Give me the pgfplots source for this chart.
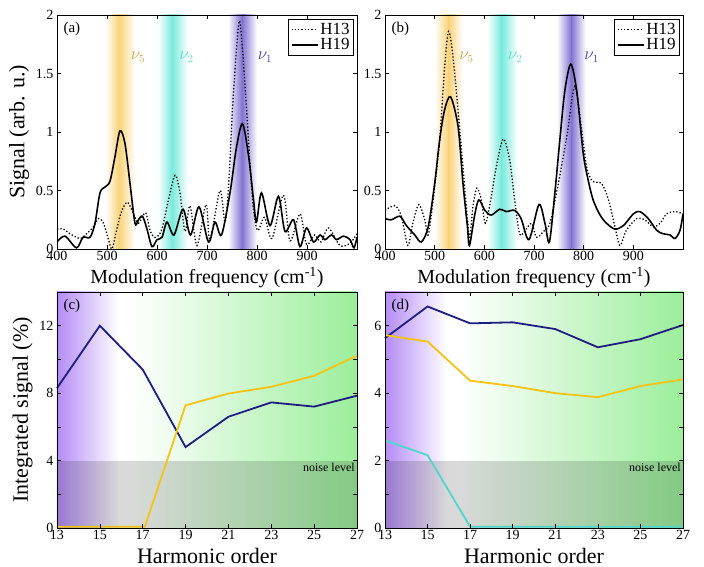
\documentclass[border=0pt]{standalone}
\usepackage{pgfplots}
\pgfplotsset{compat=1.18}
\usepackage{fontspec}
\setmainfont{Liberation Serif}
\definecolor{navy}{RGB}{30,30,130}
\definecolor{goldl}{RGB}{245,195,20}
\definecolor{cyanl}{RGB}{80,215,205}
\definecolor{purbg}{RGB}{180,140,245}
\definecolor{grnbg}{RGB}{155,238,155}
\definecolor{bandY}{RGB}{250,210,120}
\definecolor{bandC}{RGB}{120,235,220}
\definecolor{bandP}{RGB}{130,115,210}
\definecolor{nuY}{RGB}{215,165,70}
\definecolor{nuC}{RGB}{100,220,210}
\definecolor{nuP}{RGB}{70,60,170}
\begin{document}
\begin{tikzpicture}
\path (0pt,0pt) rectangle (704pt,565pt);
\pgfplotsset{
  every axis/.append style={
    scale only axis, anchor=south west, axis on top,
    tick align=inside,
    major tick length=4pt,
    tick style={black, line width=0.5pt},
    axis line style={black, line width=0.6pt},
    ticklabel style={font=\fontsize{14}{14}\selectfont},
    xlabel style={font=\fontsize{20}{20}\selectfont, yshift=1pt},
    ylabel style={font=\fontsize{22}{22}\selectfont},
    xticklabel style={yshift=1pt},
    /pgf/number format/assume math mode=true,
    legend style={font=\fontsize{17}{17}\selectfont, draw=black, line width=0.8pt, inner sep=2pt, row sep=-1pt, cells={anchor=west}},
    legend image code/.code={\draw[#1] (0pt,0pt) -- (26pt,0pt);},
  },
  topax/.style={width=300pt, height=234pt, xmin=400, xmax=1000, ymin=0, ymax=2,
    xtick={400,500,...,900}, extra x ticks={1000}, extra x tick labels={},
    ytick={0,0.5,1,1.5,2},
    xlabel={Modulation frequency (cm\textsuperscript{-1})},
    legend style={at={(0.99,0.985)}, anchor=north east}},
  botax/.style={width=300pt, height=236pt, xmin=13, xmax=27, ymin=0, clip=false,
    xtick={13,15,...,27}, xlabel={Harmonic order},
    xlabel style={font=\fontsize{22}{22}\selectfont, yshift=-2pt}},
}
% ---------------- panel (a)
\begin{axis}[at={(57pt,316pt)}, topax, ylabel={Signal (arb. u.)}]
\shade[left color=white, right color=bandY] (axis cs:497,0) rectangle (axis cs:524,2);
\shade[left color=bandY, right color=white] (axis cs:524,0) rectangle (axis cs:556,2);
\shade[left color=white, right color=bandC] (axis cs:602,0) rectangle (axis cs:630,2);
\shade[left color=bandC, right color=white] (axis cs:630,0) rectangle (axis cs:662,2);
\shade[left color=white, right color=bandP] (axis cs:742,0) rectangle (axis cs:770,2);
\shade[left color=bandP, right color=white] (axis cs:770,0) rectangle (axis cs:800,2);
\addplot[black, dotted, line width=1.3pt, smooth, tension=0.5] coordinates {
(400,0.17) (413,0.17) (426,0.13) (446,0.09) (459,0.13) (473,0.19) (483,0.26) (493,0.22) (503,0.08) (510,0.0) (519,0.16) (529,0.32) (541,0.40) (553,0.30) (563,0.22) (577,0.31) (586,0.16) (596,0.10) (609,0.16) (623,0.42) (636,0.63) (646,0.48) (656,0.15) (666,0.37) (680,0.03) (698,0.38) (706,0.08) (726,0.50) (736,0.23) (744,0.60) (752,1.27) (764,1.94) (771,1.70) (778,1.27) (791,0.42) (801,0.16) (815,0.27) (830,0.09) (853,0.46) (866,0.07) (886,0.30) (899,0.04) (915,0.12) (928,0.06) (943,0.18) (966,0.03) (986,0.05) (1000,0.13)};
\addlegendentry{H13}
\addplot[black, line width=1.6pt, smooth, tension=0.5] coordinates {
(400,0.06) (416,0.11) (439,0.01) (452,0.10) (466,0.10) (476,0.22) (486,0.48) (496,0.53) (506,0.58) (516,0.79) (526,1.01) (536,0.90) (546,0.56) (556,0.22) (563,0.25) (571,0.28) (580,0.17) (590,0.02) (600,0.08) (610,0.10) (620,0.23) (634,0.12) (652,0.34) (667,0.12) (684,0.36) (703,0.06) (716,0.23) (729,0.12) (746,0.48) (759,0.87) (771,1.07) (783,0.80) (793,0.42) (799,0.23) (809,0.48) (826,0.20) (843,0.45) (856,0.15) (873,0.25) (886,0.02) (899,0.18) (913,0.06) (926,0.12) (936,0.08) (949,0.12) (959,0.08) (973,0.11) (986,0.08) (994,0.01) (1000,0.10)};
\addlegendentry{H19}
\node[anchor=north west, font=\fontsize{15}{15}\selectfont] at (rel axis cs:0.01,0.985) {(a)};
\node[text=nuY, font=\fontsize{16}{16}\selectfont] at (axis cs:562,1.64) {$\nu_5$};
\node[text=nuC, font=\fontsize{16}{16}\selectfont] at (axis cs:659,1.64) {$\nu_2$};
\node[text=nuP, font=\fontsize{16}{16}\selectfont] at (axis cs:816,1.64) {$\nu_1$};
\end{axis}
% ---------------- panel (b)
\begin{axis}[at={(385pt,316pt)}, topax, width=298pt]
\shade[left color=white, right color=bandY] (axis cs:500,0) rectangle (axis cs:528,2);
\shade[left color=bandY, right color=white] (axis cs:528,0) rectangle (axis cs:556,2);
\shade[left color=white, right color=bandC] (axis cs:606,0) rectangle (axis cs:635,2);
\shade[left color=bandC, right color=white] (axis cs:635,0) rectangle (axis cs:667,2);
\shade[left color=white, right color=bandP] (axis cs:746,0) rectangle (axis cs:775,2);
\shade[left color=bandP, right color=white] (axis cs:775,0) rectangle (axis cs:804,2);
\addplot[black, dotted, line width=1.3pt, smooth, tension=0.5] coordinates {
(400,0.33) (420,0.37) (433,0.28) (446,0.03) (456,0.22) (468,0.38) (480,0.25) (487,0.12) (497,0.42) (510,0.93) (520,1.55) (528,1.86) (538,1.60) (554,0.85) (566,0.25) (571,0.10) (577,0.36) (585,0.52) (594,0.42) (602,0.22) (612,0.40) (624,0.70) (638,0.94) (651,0.76) (661,0.42) (671,0.13) (681,0.15) (695,0.22) (705,0.10) (719,0.15) (732,0.22) (749,0.56) (766,0.96) (782,1.39) (795,1.05) (806,0.70) (818,0.58) (836,0.56) (850,0.42) (863,0.19) (873,0.03) (886,0.16) (907,0.26) (923,0.25) (940,0.19) (954,0.22) (967,0.30) (984,0.32) (1000,0.30)};
\addlegendentry{H13}
\addplot[black, line width=1.6pt, smooth, tension=0.5] coordinates {
(400,0.26) (413,0.25) (430,0.28) (443,0.20) (460,0.12) (473,0.06) (487,0.19) (500,0.56) (510,0.93) (520,1.19) (532,1.30) (547,1.05) (557,0.56) (566,0.19) (570,0.03) (581,0.30) (589,0.42) (601,0.33) (614,0.29) (631,0.34) (644,0.32) (661,0.33) (674,0.26) (690,0.08) (710,0.38) (722,0.22) (731,0.06) (742,0.48) (752,0.93) (762,1.35) (774,1.58) (786,1.35) (799,0.82) (809,0.59) (819,0.42) (833,0.29) (846,0.22) (863,0.17) (880,0.20) (900,0.30) (913,0.32) (930,0.26) (947,0.16) (960,0.13) (974,0.12) (984,0.09) (994,0.16) (1000,0.30)};
\addlegendentry{H19}
\node[anchor=north west, font=\fontsize{15}{15}\selectfont] at (rel axis cs:0.01,0.985) {(b)};
\node[text=nuY, font=\fontsize{16}{16}\selectfont] at (axis cs:564,1.64) {$\nu_5$};
\node[text=nuC, font=\fontsize{16}{16}\selectfont] at (axis cs:662,1.64) {$\nu_2$};
\node[text=nuP, font=\fontsize{16}{16}\selectfont] at (axis cs:816,1.64) {$\nu_1$};
\end{axis}
% ---------------- panel (c)
\begin{axis}[at={(57pt,37pt)}, botax, ymax=14, ytick={0,2,...,14}, yticklabels={0,,4,,8,,12,},
  ylabel={Integrated signal (\%)}]
\shade[left color=purbg, right color=white] (axis cs:13,0) rectangle (axis cs:15.9,14);
\shade[left color=white, right color=grnbg] (axis cs:16.5,0) rectangle (axis cs:27,14);
\fill[black, opacity=0.15] (axis cs:13,0) rectangle (axis cs:27,4);
\node[anchor=north east, font=\fontsize{12}{12}\selectfont, inner sep=2pt] at (axis cs:27,4) {noise level};
\addplot[navy, line width=1.8pt] coordinates {(13,8.3) (15,12.0) (17,9.4) (19,4.8) (21,6.6) (23,7.45) (25,7.2) (27,7.85)};
\addplot[goldl, line width=1.8pt, yshift=1.3pt] coordinates {(13,0) (15,0) (17.1,0) (19,7.2) (21,7.9) (23,8.3) (25,8.95) (27,10.15)};
\node[anchor=north west, font=\fontsize{15}{15}\selectfont] at (rel axis cs:0.01,0.985) {(c)};
\end{axis}
% ---------------- panel (d)
\begin{axis}[at={(385pt,37pt)}, botax, width=298pt, ymax=7, ytick={0,1,...,7}, yticklabels={0,,2,,4,,6,}]
\shade[left color=purbg, right color=white] (axis cs:13,0) rectangle (axis cs:15.9,7);
\shade[left color=white, right color=grnbg] (axis cs:16.5,0) rectangle (axis cs:27,7);
\fill[black, opacity=0.15] (axis cs:13,0) rectangle (axis cs:27,2);
\node[anchor=north east, font=\fontsize{12}{12}\selectfont, inner sep=2pt] at (axis cs:27,2) {noise level};
\addplot[navy, line width=1.8pt] coordinates {(13,5.63) (15,6.57) (17,6.07) (19,6.1) (21,5.9) (23,5.36) (25,5.6) (27,6.02)};
\addplot[goldl, line width=1.8pt] coordinates {(13,5.72) (15,5.53) (17,4.37) (19,4.21) (21,4.0) (23,3.88) (25,4.21) (27,4.41)};
\addplot[cyanl, line width=1.8pt, yshift=1.3pt] coordinates {(13,2.56) (15,2.12) (17,0) (19,0) (21,0) (23,0) (25,0) (27,0)};
\node[anchor=north west, font=\fontsize{15}{15}\selectfont] at (rel axis cs:0.01,0.985) {(d)};
\end{axis}
\end{tikzpicture}
\end{document}
